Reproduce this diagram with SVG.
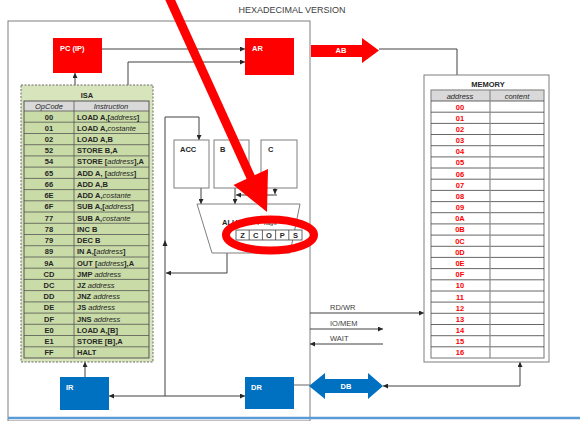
<svg xmlns="http://www.w3.org/2000/svg" width="580" height="421" viewBox="0 0 580 421">
<style>
text{font-family:"Liberation Sans",Arial,sans-serif;fill:#262626}
.t{font-size:9px;fill:#404040}
.w{font-size:7.5px;font-weight:bold;fill:#fff}
.k{font-size:7.5px;font-weight:bold}
.op{font-size:7.5px;font-weight:bold;text-anchor:middle}
.ins{font-size:7.5px;font-weight:bold}
.i{font-style:italic;font-weight:normal}
.hd{font-size:7.5px;font-style:italic;text-anchor:middle}
.ad{font-size:7.5px;font-weight:bold;fill:#ff0000;text-anchor:middle}
.lb{font-size:7.5px;fill:#404040}
.fl{font-size:7.5px;font-weight:bold;text-anchor:middle}
.red{fill:#ff0000}
.blue{fill:#0070c0}
.reg{fill:#fff;stroke:#7f7f7f;stroke-width:1}
.cn{fill:none;stroke:#404040;stroke-width:1}
</style>
<defs>
<marker id="ah" viewBox="0 0 10 10" refX="10" refY="5" markerWidth="5" markerHeight="5" markerUnits="userSpaceOnUse" orient="auto-start-reverse">
<path d="M0,0L10,5L0,10z" fill="#262626"/>
</marker>
</defs>

<text class="t" x="292" y="13" text-anchor="middle">HEXADECIMAL VERSION</text>

<g id="cpu-box">
<rect x="8" y="21" width="302" height="400" fill="none" stroke="#7f7f7f" stroke-width="1"/>
</g>
<line x1="8" y1="418" x2="580" y2="418" stroke="#5b9bd5" stroke-width="2.5"/>

<g id="connectors">
<path class="cn" d="M102,49H245" marker-end="url(#ah)"/>
<path class="cn" d="M128,85V62H245" marker-end="url(#ah)"/>
<path class="cn" d="M75,85V73" marker-end="url(#ah)"/>
<path class="cn" d="M379,49H457V85" marker-end="url(#ah)"/>
<path class="cn" d="M85,377V362" marker-end="url(#ah)"/>
<path class="cn" d="M109,396H245" marker-start="url(#ah)" marker-end="url(#ah)"/>
<path class="cn" d="M165,396V117H199V140" marker-end="url(#ah)"/>
<path d="M162.5,246L165,240L167.5,246z" fill="#262626"/>
<path class="cn" d="M227,253V273H166" marker-end="url(#ah)"/>
<path class="cn" d="M201,188V204" marker-end="url(#ah)"/>
<path class="cn" d="M235,188V204" marker-end="url(#ah)"/>
<path class="cn" d="M275,188V194" marker-end="url(#ah)"/>
<path class="cn" d="M277,195H236" marker-end="url(#ah)"/>
<path d="M294,385H310" fill="none" stroke="#7f7f7f" stroke-width="1.2"/>
<path class="cn" d="M383,386H520V362" marker-start="url(#ah)" marker-end="url(#ah)"/>
<path class="cn" d="M310,313H424" marker-end="url(#ah)"/>
<path class="cn" d="M310,329H383" marker-end="url(#ah)"/>
<path class="cn" d="M383,344H310" marker-end="url(#ah)"/>
<text class="lb" x="330" y="310">RD/WR</text>
<text class="lb" x="330" y="326">IO/MEM</text>
<text class="lb" x="330" y="341">WAIT</text>
</g>

<g id="pc">
<rect class="red" x="53" y="38" width="49" height="35"/>
<text class="w" x="60" y="51">PC (IP)</text>
</g>
<g id="ar">
<rect class="red" x="245" y="38" width="49" height="37"/>
<text class="w" x="252" y="51">AR</text>
</g>
<g id="ab">
<path class="red" d="M311,45H362V38L379,50.5L362,63V57H311z"/>
<text class="w" x="341" y="53" text-anchor="middle">AB</text>
</g>
<g id="ir">
<rect class="blue" x="60" y="377" width="49" height="33"/>
<text class="w" x="66" y="390">IR</text>
</g>
<g id="dr">
<rect class="blue" x="245" y="377" width="49" height="32"/>
<text class="w" x="251" y="390">DR</text>
</g>
<g id="db">
<path class="blue" d="M309,386L325,373V379H368V373L383,386L368,399V393H325V399z"/>
<text class="w" x="346" y="389" text-anchor="middle">DB</text>
</g>

<g id="acc">
<rect class="reg" x="174" y="140" width="35" height="48"/>
<text class="k" x="180" y="152">ACC</text>
</g>
<g id="b">
<rect class="reg" x="214" y="140" width="35" height="48"/>
<text class="k" x="220" y="152">B</text>
</g>
<g id="c">
<rect class="reg" x="261" y="140" width="36" height="48"/>
<text class="k" x="268" y="152">C</text>
</g>
<g id="alu">
<path d="M197,204H300L290,253H212z" fill="#fff" stroke="#7f7f7f" stroke-width="1"/>
<text class="k" x="222" y="225">ALU</text>
<line x1="258" y1="225" x2="261" y2="219" stroke="#404040" stroke-width="0.7"/>
<text x="264" y="225" style="font-size:6px;font-style:italic">flags</text>
<g id="flags">
<rect x="236" y="230" width="66" height="10" fill="#fff" stroke="#404040" stroke-width="0.8"/>
<path d="M249.2,230V240M262.4,230V240M275.6,230V240M288.8,230V240" stroke="#404040" stroke-width="0.8"/>
<text class="fl" x="242.6" y="238">Z</text>
<text class="fl" x="255.8" y="238">C</text>
<text class="fl" x="269" y="238">O</text>
<text class="fl" x="282.2" y="238">P</text>
<text class="fl" x="295.4" y="238">S</text>
</g>
</g>

<g id="isa">
<rect x="21" y="85" width="132" height="277" fill="#d8e4bc" stroke="#6a6a6a" stroke-width="1" stroke-dasharray="2,1.5"/>
<text class="k" x="87" y="98" text-anchor="middle">ISA</text>
<rect x="24" y="101" width="125" height="10" fill="#d9d9d9"/>
<rect x="24" y="111" width="125" height="247" fill="#c9dba6"/>
<rect x="24" y="101" width="125" height="257" fill="none" stroke="#555" stroke-width="1"/>
<path d="M74,101V358M24,111H149M24,122.2H149M24,133.5H149M24,144.7H149M24,155.9H149M24,167.1H149M24,178.4H149M24,189.6H149M24,200.8H149M24,212H149M24,223.3H149M24,234.5H149M24,245.7H149M24,257H149M24,268.2H149M24,279.4H149M24,290.6H149M24,301.9H149M24,313.1H149M24,324.3H149M24,335.5H149M24,346.8H149" stroke="#555" stroke-width="0.8" fill="none"/>
<text class="hd" x="49" y="109">OpCode</text>
<text class="hd" x="111" y="109">Instruction</text>
<text class="op" x="49" y="119.5">00</text><text class="ins" x="77" y="119.5">LOAD A,[<tspan class="i">address</tspan>]</text>
<text class="op" x="49" y="130.7">01</text><text class="ins" x="77" y="130.7">LOAD A,<tspan class="i">costante</tspan></text>
<text class="op" x="49" y="142">02</text><text class="ins" x="77" y="142">LOAD A,B</text>
<text class="op" x="49" y="153.2">52</text><text class="ins" x="77" y="153.2">STORE B,A</text>
<text class="op" x="49" y="164.4">54</text><text class="ins" x="77" y="164.4">STORE [<tspan class="i">address</tspan>],A</text>
<text class="op" x="49" y="175.6">65</text><text class="ins" x="77" y="175.6">ADD A, [<tspan class="i">address</tspan>]</text>
<text class="op" x="49" y="186.9">66</text><text class="ins" x="77" y="186.9">ADD A,B</text>
<text class="op" x="49" y="198.1">6E</text><text class="ins" x="77" y="198.1">ADD A,<tspan class="i">costante</tspan></text>
<text class="op" x="49" y="209.3">6F</text><text class="ins" x="77" y="209.3">SUB A,[<tspan class="i">address</tspan>]</text>
<text class="op" x="49" y="220.5">77</text><text class="ins" x="77" y="220.5">SUB A,<tspan class="i">costante</tspan></text>
<text class="op" x="49" y="231.8">78</text><text class="ins" x="77" y="231.8">INC B</text>
<text class="op" x="49" y="243">79</text><text class="ins" x="77" y="243">DEC B</text>
<text class="op" x="49" y="254.2">89</text><text class="ins" x="77" y="254.2">IN A,[<tspan class="i">address</tspan>]</text>
<text class="op" x="49" y="265.5">9A</text><text class="ins" x="77" y="265.5">OUT [<tspan class="i">address</tspan>],A</text>
<text class="op" x="49" y="276.7">CD</text><text class="ins" x="77" y="276.7">JMP <tspan class="i">address</tspan></text>
<text class="op" x="49" y="287.9">DC</text><text class="ins" x="77" y="287.9">JZ <tspan class="i">address</tspan></text>
<text class="op" x="49" y="299.1">DD</text><text class="ins" x="77" y="299.1">JNZ <tspan class="i">address</tspan></text>
<text class="op" x="49" y="310.4">DE</text><text class="ins" x="77" y="310.4">JS <tspan class="i">address</tspan></text>
<text class="op" x="49" y="321.6">DF</text><text class="ins" x="77" y="321.6">JNS <tspan class="i">address</tspan></text>
<text class="op" x="49" y="332.8">E0</text><text class="ins" x="77" y="332.8">LOAD A,[B]</text>
<text class="op" x="49" y="344">E1</text><text class="ins" x="77" y="344">STORE [B],A</text>
<text class="op" x="49" y="355.3">FF</text><text class="ins" x="77" y="355.3">HALT</text>
</g>

<g id="memory">
<rect x="424" y="75" width="125" height="287" fill="#fff" stroke="#7f7f7f" stroke-width="1"/>
<text class="k" x="488" y="87" text-anchor="middle">MEMORY</text>
<rect x="431" y="90" width="113" height="11" fill="#d9d9d9"/>
<rect x="431" y="90" width="113" height="268" fill="none" stroke="#8c8c8c" stroke-width="1.2"/>
<path d="M431,101H544M431,112.2H544M431,123.4H544M431,134.5H544M431,145.7H544M431,156.9H544M431,168H544M431,179.2H544M431,190.4H544M431,201.6H544M431,212.7H544M431,223.9H544M431,235.1H544M431,246.3H544M431,257.4H544M431,268.6H544M431,279.8H544M431,291H544M431,302.1H544M431,313.3H544M431,324.5H544M431,335.7H544M431,346.8H544" stroke="#404040" stroke-width="0.8" fill="none"/>
<path d="M490,90V358" stroke="#8c8c8c" stroke-width="1.2"/>
<text class="hd" x="460" y="98.5">address</text>
<text class="hd" x="517" y="98.5">content</text>
<text class="ad" x="460" y="109.5">00</text>
<text class="ad" x="460" y="120.7">01</text>
<text class="ad" x="460" y="131.9">02</text>
<text class="ad" x="460" y="143">03</text>
<text class="ad" x="460" y="154.2">04</text>
<text class="ad" x="460" y="165.4">05</text>
<text class="ad" x="460" y="176.5">06</text>
<text class="ad" x="460" y="187.7">07</text>
<text class="ad" x="460" y="198.9">08</text>
<text class="ad" x="460" y="210.1">09</text>
<text class="ad" x="460" y="221.2">0A</text>
<text class="ad" x="460" y="232.4">0B</text>
<text class="ad" x="460" y="243.6">0C</text>
<text class="ad" x="460" y="254.8">0D</text>
<text class="ad" x="460" y="265.9">0E</text>
<text class="ad" x="460" y="277.1">0F</text>
<text class="ad" x="460" y="288.3">10</text>
<text class="ad" x="460" y="299.5">11</text>
<text class="ad" x="460" y="310.6">12</text>
<text class="ad" x="460" y="321.8">13</text>
<text class="ad" x="460" y="333">14</text>
<text class="ad" x="460" y="344.2">15</text>
<text class="ad" x="460" y="355.3">16</text>
</g>

<g id="annotation">
<line x1="168" y1="-5" x2="252" y2="180" stroke="#ff0000" stroke-width="9"/>
<path d="M267,212L268,169L233.5,185z" fill="#ff0000"/>
<ellipse cx="270" cy="235" rx="44" ry="15.5" fill="none" stroke="#ff0000" stroke-width="8"/>
</g>
</svg>
